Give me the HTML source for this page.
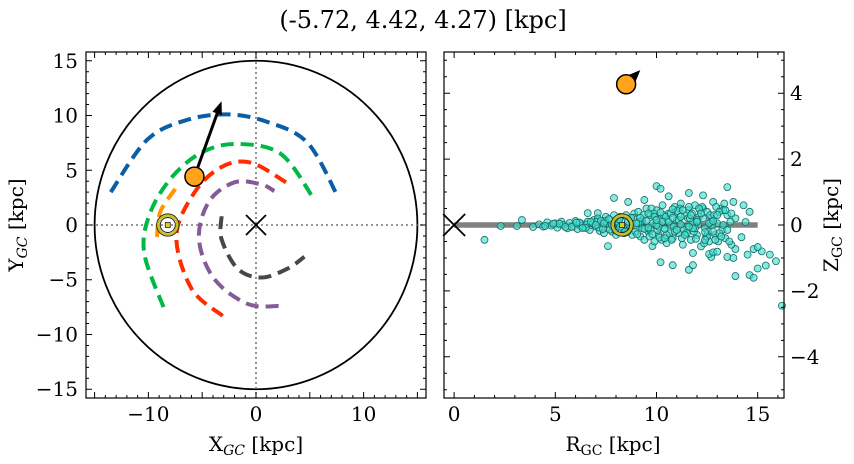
<!DOCTYPE html>
<html><head><meta charset="utf-8">
<style>
html,body{margin:0;padding:0;background:#fff;}
svg{display:block;font-family:"DejaVu Serif","Liberation Serif",serif;}
</style></head>
<body>
<svg id="chart" width="854" height="464" viewBox="0 0 854 464">
<text x="423" y="28" text-anchor="middle" font-size="24">(-5.72, 4.42, 4.27) [kpc]</text>
<g id="left"></g>
<g id="right"></g>
</svg>
<script>
// ---- Left panel data (X,Y in kpc) ----
const orbitBlue = [[-13.5,3],[-10.1,7.8],[-6.4,9.6],[-2.6,10.1],[1.1,9.4],[4.8,7.5],[7.6,2.6]];
const orbitGreen = [[-8.6,-7.5],[-10.4,-2.5],[-9.8,1.2],[-7.7,4.5],[-4.9,6.7],[-1.7,7.4],[2.3,6.5],[5.3,2.5]];
const orbitOrange = [[-9.2,-1.1],[-8.9,1.2],[-7.5,3.3]];
const orbitRed = [[-3.1,-8.3],[-6.0,-5.8],[-7.4,-1.0],[-5.7,3.0],[-3.2,5.3],[-0.5,5.7],[2.8,3.9]];
const orbitPurple = [[2.1,-7.4],[-0.8,-7.2],[-3.9,-4.9],[-5.3,-1.3],[-4.4,2.1],[-2.0,3.9],[0.5,3.7],[1.7,3.1]];
const orbitGray = [[-3.2,0.8],[-3.2,-1.3],[-1.7,-4.0],[0.5,-4.8],[2.9,-4.0],[4.5,-2.9]];
const starXY = [-5.72, 4.42];
const arrowTipXY = [-3.2, 11.3];
const sunXY = [-8.2, 0];
const xTicksL = [-10,0,10];
const yTicksL = [15,10,5,0,-5,-10,-15];
// ---- Right panel data (R,Z in kpc) ----
const starRZ = [8.5, 4.27];
const arrowTipRZ = [9.2, 4.7];
const sunRZ = [8.3, 0];
const diskR = [0, 15];
const xTicksR = [0,5,10,15];
const yTicksR = [4,2,0,-2,-4];
const particlesR = [1.5,2.3,3.1,3.35,3.9,6.6,7.1,7.9,8.6,7.6,9.4,10.0,10.2,10.6,11.6,12.3,13.5,13.8,14.3,14.6,14.4,14.2,13.9,13.5,13.8,12.7,12.6,12.8,13.0,11.8,10.2,10.8,11.6,11.8,9.8,13.9,14.6,14.8,15.0,15.4,15.9,15.6,15.2,14.8,14.5,15.0,16.2,
4.2,4.4,4.6,4.8,5.0,5.1,5.3,5.4,5.6,5.7,5.9,6.0,6.1,6.3,6.4,6.6,6.7,6.8,6.9,7.0,
7.1,7.2,7.3,7.4,7.5,7.6,7.7,7.8,7.9,8.0,8.1,8.2,8.4,8.5,8.6,8.7,8.8,8.9,9.0,
9.1,9.2,9.3,9.4,9.5,9.6,9.7,9.8,9.9,10.0,10.1,10.2,10.3,10.4,10.5,10.6,10.7,10.8,10.9,11.0,11.1,11.2,11.3,11.4,11.5,11.6,11.7,11.8,11.9,12.0,12.1,12.2,12.3,12.4,12.5,12.6,12.7,12.8,12.9,13.0,13.2,13.4,13.5,13.7,13.9,
9.15,9.45,9.75,10.05,10.35,10.65,10.95,11.25,11.55,11.85,12.15,12.45,12.75,13.05,13.35,13.65,8.05,8.35,8.65,8.95,9.35,9.65,9.95,10.25,10.55,10.85,11.15,11.45,11.75,12.05,12.35,12.65,12.95,13.25,7.55,7.85,6.25,6.55,6.85,7.15,7.45,
5.2,5.8,6.2,6.5,7.05,7.35,7.65,7.95,8.25,8.55,8.85,9.05,9.25,9.55,9.85,10.15,10.45,10.75,11.05,11.35,11.65,11.95,12.25,12.55,12.85,13.1,13.3,13.6,
4.5,4.9,5.5,6.05,6.35,6.75,7.25,7.7,8.15,8.45,8.75,9.1,9.3,9.5,9.7,9.9,10.1,10.3,10.5,10.7,10.9,11.1,11.3,11.5,11.7,11.9,12.1,12.3,12.5,12.7,12.9,13.1,13.3,13.5,13.7,
9.2,9.4,9.6,9.8,10.0,10.2,10.4,10.6,10.8,11.0,11.2,11.4,11.6,11.8,12.0,12.2,12.4,12.6,12.8,13.0,13.2,13.4,
7.0,7.4,7.8,8.2,8.6,9.0,9.6,10.0,10.4,10.8,11.2,11.6,12.0,12.4,12.8];
const particlesZ = [-0.45,-0.03,-0.03,0.15,-0.06,0.36,0.36,0.82,0.7,-0.64,0.76,1.18,1.1,0.87,0.97,0.9,1.15,0.7,0.6,0.4,0.09,-0.37,-0.73,-0.97,-1.0,-0.97,-0.88,-0.83,-0.81,-0.85,-1.13,-1.22,-1.36,-1.22,-0.64,-1.55,-1.52,-1.6,-1.32,-1.23,-1.1,-0.9,-0.8,-0.73,-0.9,-0.67,-2.45,
0.02,-0.05,0.08,-0.02,0.05,-0.08,0.1,0.0,-0.1,0.06,-0.04,0.12,-0.12,0.03,-0.07,0.1,-0.15,0.0,0.15,-0.05,
0.2,-0.18,0.08,-0.25,0.25,-0.1,0.15,-0.2,0.3,-0.3,0.1,0.25,-0.25,0.3,-0.15,0.2,-0.3,0.35,-0.05,
0.4,-0.35,0.15,-0.45,0.5,-0.2,0.3,0.05,-0.5,0.45,-0.3,0.2,0.6,-0.1,-0.55,0.35,0.0,-0.4,0.55,0.15,-0.25,0.65,-0.6,0.3,-0.05,0.45,-0.45,0.1,0.6,-0.3,0.25,-0.65,0.5,-0.1,0.4,-0.5,0.2,0.7,-0.3,0.05,0.5,-0.4,0.3,-0.6,0.2,
0.1,-0.1,0.5,-0.15,0.3,-0.25,0.4,-0.4,0.2,-0.2,0.45,-0.35,0.0,-0.5,0.65,0.1,0.05,-0.1,0.0,-0.2,0.3,-0.35,0.25,-0.45,0.15,-0.05,0.5,-0.2,0.35,0.0,-0.55,0.3,0.55,-0.15,0.05,-0.05,-0.02,0.02,0.05,-0.08,0.12,
0.04,-0.06,0.07,-0.09,0.1,-0.12,0.18,-0.15,0.12,-0.22,0.22,-0.28,0.1,-0.1,0.35,-0.38,0.25,-0.45,0.42,-0.15,0.2,-0.42,0.55,-0.2,0.3,-0.25,0.45,-0.5,
-0.03,0.04,-0.06,0.07,-0.09,0.1,0.13,-0.14,0.17,-0.2,0.22,0.05,-0.1,0.12,-0.15,0.25,-0.05,0.1,-0.3,0.35,-0.2,0.15,0.45,-0.25,0.3,-0.1,0.5,0.2,-0.35,0.1,-0.45,0.4,0.0,-0.15,0.35,
0.22,-0.12,0.35,-0.28,0.0,0.38,-0.4,0.1,0.48,-0.15,0.25,-0.3,0.55,-0.1,0.15,0.35,-0.45,0.05,-0.2,0.3,-0.35,0.45,
0.0,0.05,0.0,-0.05,0.1,0.05,-0.08,0.15,-0.12,0.22,0.02,-0.05,0.1,-0.22,0.12];

const NS = "http://www.w3.org/2000/svg";
function mk(parent, tag, attrs){ const e=document.createElementNS(NS,tag); for(const k in attrs) e.setAttribute(k,attrs[k]); parent.appendChild(e); return e; }

const L = {x0:86,x1:426,y0:52,y1:398,xmin:-15.8,xmax:15.8,ymin:-15.8,ymax:15.8};
const lx = v => L.x0 + (v-L.xmin)/(L.xmax-L.xmin)*(L.x1-L.x0);
const ly = v => L.y1 - (v-L.ymin)/(L.ymax-L.ymin)*(L.y1-L.y0);
const R = {x0:444,x1:784,y0:52,y1:398,xmin:-0.5,xmax:16.3,ymin:-5.25,ymax:5.25};
const rx = v => R.x0 + (v-R.xmin)/(R.xmax-R.xmin)*(R.x1-R.x0);
const ry = v => R.y1 - (v-R.ymin)/(R.ymax-R.ymin)*(R.y1-R.y0);

const gl = document.getElementById('left');
const gr = document.getElementById('right');
const FS = 20;

function smoothPath(pts, fx, fy){
  const P = pts.map(p=>[fx(p[0]),fy(p[1])]);
  let d = `M${P[0][0]},${P[0][1]}`;
  for(let i=0;i<P.length-1;i++){
    const p0=P[Math.max(i-1,0)],p1=P[i],p2=P[i+1],p3=P[Math.min(i+2,P.length-1)];
    const c1=[p1[0]+(p2[0]-p0[0])/6,p1[1]+(p2[1]-p0[1])/6];
    const c2=[p2[0]-(p3[0]-p1[0])/6,p2[1]-(p3[1]-p1[1])/6];
    d+=` C${c1[0]},${c1[1]} ${c2[0]},${c2[1]} ${p2[0]},${p2[1]}`;
  }
  return d;
}

function ticks(g, A, fx, fy, xmaj, xmin, ymaj, ymin){
  let d='';
  xmin.forEach(v=>{const x=fx(v); d+=`M${x},${A.y1}v-3M${x},${A.y0}v3`;});
  xmaj.forEach(v=>{const x=fx(v); d+=`M${x},${A.y1}v-6M${x},${A.y0}v6`;});
  ymin.forEach(v=>{const y=fy(v); d+=`M${A.x0},${y}h3M${A.x1},${y}h-3`;});
  ymaj.forEach(v=>{const y=fy(v); d+=`M${A.x0},${y}h6M${A.x1},${y}h-6`;});
  const t=mk(g,'path',{d:d,stroke:'#000','stroke-width':1,fill:'none'});
  
  
}
function range(a,b,s){const r=[];for(let v=a;v<=b+1e-9;v+=s)r.push(Math.round(v*100)/100);return r;}

function sunMarker(g,sx,sy){
  const sg=mk(g,'g',{});
   
  mk(sg,'circle',{cx:sx,cy:sy,r:11,fill:'none',stroke:'#222','stroke-width':1.2});
  mk(sg,'circle',{cx:sx,cy:sy,r:9.5,fill:'none',stroke:'#c8c020','stroke-width':2.5});
  mk(sg,'circle',{cx:sx,cy:sy,r:7.5,fill:'none',stroke:'#222','stroke-width':1});
  mk(sg,'rect',{x:sx-2.5,y:sy-2.5,width:5,height:5,fill:'#d8d030',stroke:'#222','stroke-width':0.8});
}
function arrow(g,ax0,ay0,ax1,ay1,hl){
  const ang=Math.atan2(ay1-ay0,ax1-ax0);
  const hw=5;
  const bx=ax1-hl*Math.cos(ang),by=ay1-hl*Math.sin(ang);
  const ar=mk(g,'g',{});
   
  mk(ar,'line',{x1:ax0,y1:ay0,x2:bx,y2:by,stroke:'#000','stroke-width':3});
  mk(ar,'polygon',{points:`${ax1},${ay1} ${bx-hw*Math.sin(ang)},${by+hw*Math.cos(ang)} ${bx+hw*Math.sin(ang)},${by-hw*Math.cos(ang)}`,fill:'#000'});
}

// ===== LEFT =====
{
  const c = mk(gl,'ellipse',{cx:lx(0),cy:ly(0),rx:lx(15)-lx(0),ry:ly(0)-ly(15),fill:'none',stroke:'#000','stroke-width':1.8});
   
  const h = mk(gl,'line',{x1:L.x0,x2:L.x1,y1:ly(0),y2:ly(0),stroke:'#777','stroke-width':1.6,'stroke-dasharray':'2,3'});
   
  const v = mk(gl,'line',{x1:lx(0),x2:lx(0),y1:L.y0,y2:L.y1,stroke:'#777','stroke-width':1.6,'stroke-dasharray':'2,3'});
   
  const orbits=[[orbitBlue,'#0c5da5','orbit-blue'],[orbitOrange,'#ff9500','orbit-orange'],[orbitGreen,'#00b945','orbit-green'],[orbitRed,'#ff2c00','orbit-red'],[orbitPurple,'#845b97','orbit-purple'],[orbitGray,'#474747','orbit-gray']];
  orbits.forEach(o=>{
    const p=mk(gl,'path',{d:smoothPath(o[0],lx,ly),fill:'none',stroke:o[1],'stroke-width':4,'stroke-dasharray':'13,7'});
     
  });
  const cx=lx(0),cy=ly(0);
  const gc=mk(gl,'path',{d:`M${cx-10},${cy-10}L${cx+10},${cy+10}M${cx-10},${cy+10}L${cx+10},${cy-10}`,stroke:'#000','stroke-width':1.8});
   
  sunMarker(gl,lx(sunXY[0]),ly(sunXY[1]));
  const ax0=lx(starXY[0]),ay0=ly(starXY[1]);
  arrow(gl,ax0,ay0,lx(arrowTipXY[0]),ly(arrowTipXY[1]),13);
  const st=mk(gl,'circle',{cx:ax0,cy:ay0,r:9.5,fill:'#ffa41b',stroke:'#000','stroke-width':1.5});
   
  const fr=mk(gl,'rect',{x:L.x0,y:L.y0,width:L.x1-L.x0,height:L.y1-L.y0,fill:'none',stroke:'#000','stroke-width':1.2});
   
  ticks(gl,L,lx,ly,range(-15,15,5),range(-15,15,1),range(-15,15,5),range(-15,15,1));
  xTicksL.forEach(t=>{
    const e=mk(gl,'text',{x:lx(t),y:421,'text-anchor':'middle','font-size':FS}); e.textContent=(t<0?'\u2212':'')+Math.abs(t);
     
  });
  yTicksL.forEach(t=>{
    const e=mk(gl,'text',{x:78,y:ly(t)+7,'text-anchor':'end','font-size':FS}); e.textContent=(t<0?'\u2212':'')+Math.abs(t);
     
  });
  const xl=mk(gl,'text',{x:256,y:451,'text-anchor':'middle','font-size':FS});
  xl.innerHTML='X<tspan font-size="14" dy="4" font-style="italic">GC</tspan><tspan dy="-4"> [kpc]</tspan>';
   
  const yl=mk(gl,'text',{x:0,y:0,'text-anchor':'middle','font-size':FS,transform:`translate(23,${ly(0)}) rotate(-90)`});
  yl.innerHTML='Y<tspan font-size="14" dy="4" font-style="italic">GC</tspan><tspan dy="-4"> [kpc]</tspan>';
   
}

// ===== RIGHT =====
{
  const dk=mk(gr,'line',{x1:rx(diskR[0]),x2:rx(diskR[1]),y1:ry(0),y2:ry(0),stroke:'#808080','stroke-width':5.5});
   
  const cx=rx(0),cy=ry(0);
  const gc=mk(gr,'path',{d:`M${cx-11},${cy-11}L${cx+11},${cy+11}M${cx-11},${cy+11}L${cx+11},${cy-11}`,stroke:'#000','stroke-width':1.8});
   
  const pg=mk(gr,'g',{});
   
  for(let i=0;i<particlesR.length;i++){
    const x=rx(particlesR[i]),y=ry(particlesZ[i]);
    if(x>R.x1+4) continue;
    const p=mk(pg,'circle',{cx:x,cy:y,r:3.5,fill:'rgba(64,224,208,0.65)',stroke:'#1b6a66','stroke-width':0.8});
    
    
  }
  sunMarker(gr,rx(sunRZ[0]),ry(sunRZ[1]));
  const ax0=rx(starRZ[0]),ay0=ry(starRZ[1]);
  arrow(gr,ax0,ay0,rx(arrowTipRZ[0]),ry(arrowTipRZ[1]),12);
  const st=mk(gr,'circle',{cx:ax0,cy:ay0,r:9.5,fill:'#ffa41b',stroke:'#000','stroke-width':1.5});
   
  const fr=mk(gr,'rect',{x:R.x0,y:R.y0,width:R.x1-R.x0,height:R.y1-R.y0,fill:'none',stroke:'#000','stroke-width':1.2});
   
  ticks(gr,R,rx,ry,range(0,15,5),range(0,16,1),range(-4,4,2),range(-5,5,0.5));
  xTicksR.forEach(t=>{
    const e=mk(gr,'text',{x:rx(t),y:421,'text-anchor':'middle','font-size':FS}); e.textContent=String(t);
     
  });
  yTicksR.forEach(t=>{
    const e=mk(gr,'text',{x:790,y:ry(t)+7,'text-anchor':'start','font-size':FS}); e.textContent=(t<0?'\u2212':'')+Math.abs(t);
     
  });
  const xl=mk(gr,'text',{x:613,y:451,'text-anchor':'middle','font-size':FS});
  xl.innerHTML='R<tspan font-size="14" dy="4">GC</tspan><tspan dy="-4"> [kpc]</tspan>';
   
  const yl=mk(gr,'text',{x:0,y:0,'text-anchor':'middle','font-size':FS,transform:`translate(838,${ry(0)}) rotate(-90)`});
  yl.innerHTML='Z<tspan font-size="14" dy="4">GC</tspan><tspan dy="-4"> [kpc]</tspan>';
   
}
</script>
</body></html>
